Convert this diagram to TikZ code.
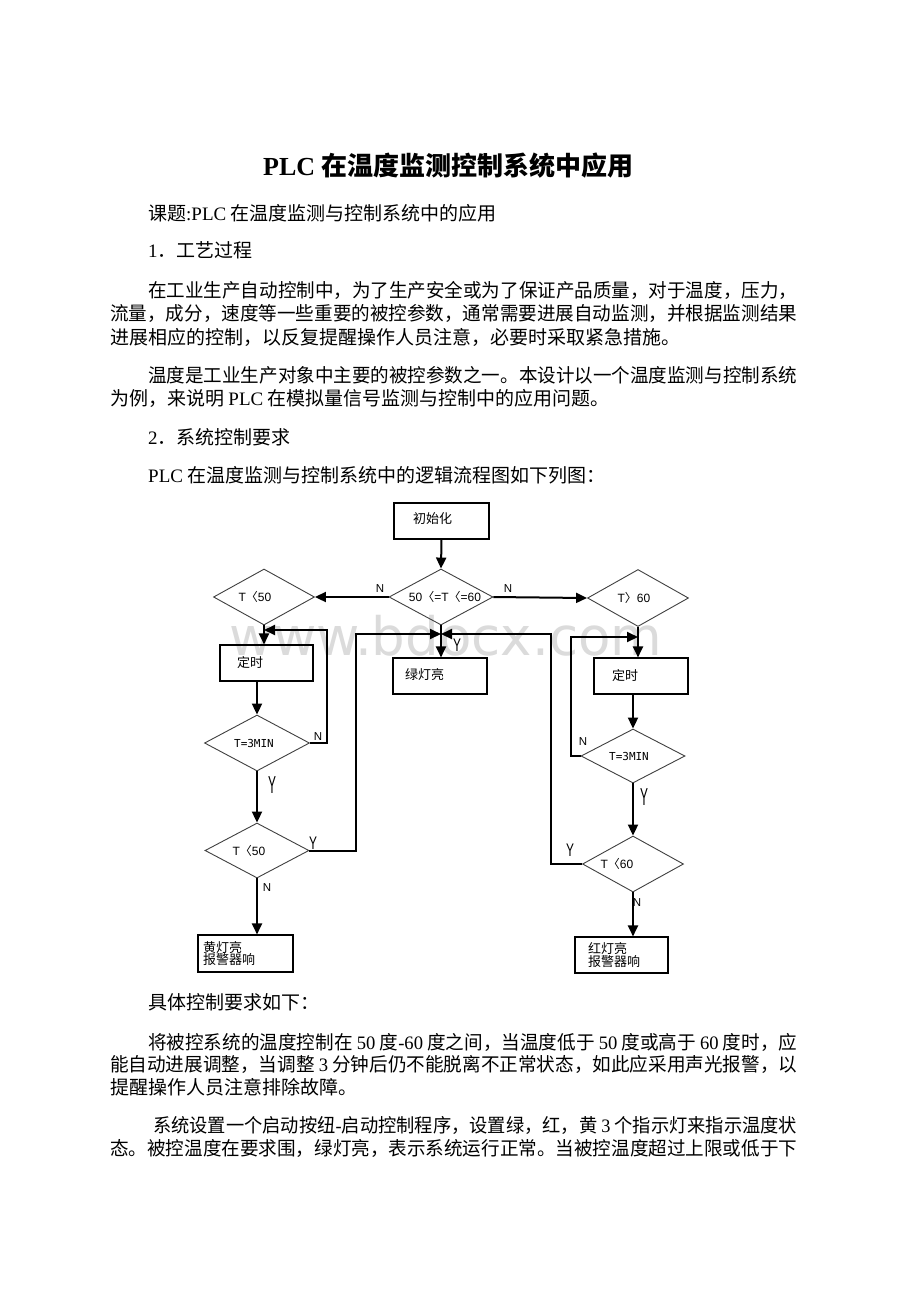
\documentclass[tikz,border=0pt]{standalone}
\usepackage{fontspec}
\usepackage{graphicx}
\setmainfont{Liberation Serif}
\newfontfamily\cjk{Noto Sans CJK SC}
\newfontfamily\lsans{Liberation Sans}
\newfontfamily\dmono{DejaVu Sans Mono}
\newfontfamily\dsans{DejaVu Sans}
\usetikzlibrary{arrows.meta,shapes.geometric}
\newcommand\lt[1]{{\rmfamily #1}}
\newcommand\fitw[2]{\resizebox{#1}{\height}{#2}}
\newcommand\shtxt[3]{\raisebox{#2}{\kern#1\relax#3\kern-#1\relax}}
\newcommand\Ysm{\scalebox{0.85}[1.3]{\lsans\fontsize{14}{14}\selectfont Y}}
\newcommand\Ybig{\scalebox{0.85}[1.75]{\lsans\fontsize{14}{14}\selectfont Y}}
\newcommand\lang{{\cjk 〈}}
\newcommand\rang{{\cjk 〉}}
\begin{document}
\begin{tikzpicture}[x=1pt,y=-1pt,
  body/.style={anchor=base west, inner sep=0pt, font=\cjk\fontsize{19}{19}\selectfont},
  fcbox/.style={draw=black, line width=1.1pt, rectangle, inner ysep=0pt, minimum height=36pt, font=\cjk\fontsize{13}{12.5}\selectfont, align=left},
  dia/.style={draw=black!75, line width=0.9pt, diamond, shape aspect=1.9, inner sep=0pt},
  conn/.style={line width=2pt, -{Triangle[length=11pt,width=10pt]}},
  lab/.style={inner sep=0pt, font=\lsans\fontsize{11.5}{11.5}\selectfont},
  dtext/.style={font=\lsans\fontsize{12}{12}\selectfont},
  mtext/.style={font=\dmono\fontsize{11}{11}\selectfont}
]
\useasboundingbox (0,0) rectangle (920,1302);
\fill[white] (0,0) rectangle (920,1302);

% watermark
\node[anchor=base, inner sep=0pt, text=black!14, font=\dsans\fontsize{53}{53}\selectfont] (wm) at (446,655) {www.bdocx.com};

% title and text
\node[anchor=base west, inner sep=0pt, font=\cjk\bfseries\fontsize{26}{26}\selectfont] (title) at (263,175) {{\rmfamily\bfseries PLC} 在温度监测控制系统中应用};
\node[body] (t1) at (148,220.5) {课题\lt{:PLC} 在温度监测与控制系统中的应用};
\node[body] (t2) at (148,257) {\lt{1}．工艺过程};
\node[body] (t3) at (148,297) {\fitw{649pt}{在工业生产自动控制中，为了生产安全或为了保证产品质量，对于温度，压力，}};
\node[body] (t4) at (110,320.5) {\fitw{687pt}{流量，成分，速度等一些重要的被控参数，通常需要进展自动监测，并根据监测结果}};
\node[body] (t5) at (110,344) {进展相应的控制，以反复提醒操作人员注意，必要时采取紧急措施。};
\node[body] (t6) at (148,382.5) {\fitw{649pt}{温度是工业生产对象中主要的被控参数之一。本设计以一个温度监测与控制系统}};
\node[body] (t7) at (110,405.5) {为例，来说明 \lt{PLC} 在模拟量信号监测与控制中的应用问题。};
\node[body] (t8) at (148,444) {\lt{2}．系统控制要求};
\node[body] (t9) at (148,482) {\lt{PLC} 在温度监测与控制系统中的逻辑流程图如下列图：};

\node[body] (t10) at (148,1009) {具体控制要求如下：};
\node[body] (t11) at (148,1049) {\fitw{649pt}{将被控系统的温度控制在 \lt{50} 度\lt{-60} 度之间，当温度低于 \lt{50} 度或高于 \lt{60} 度时，应}};
\node[body] (t12) at (110,1071) {\fitw{687pt}{能自动进展调整，当调整 \lt{3} 分钟后仍不能脱离不正常状态，如此应采用声光报警，以}};
\node[body] (t13) at (110,1094) {提醒操作人员注意排除故障。};
\node[body] (t14) at (153,1132.5) {\fitw{644pt}{系统设置一个启动按纽\lt{-}启动控制程序，设置绿，红，黄 \lt{3} 个指示灯来指示温度状}};
\node[body] (t15) at (110,1155.5) {\fitw{687pt}{态。被控温度在要求围，绿灯亮，表示系统运行正常。当被控温度超过上限或低于下}};

% flowchart nodes
\node[fcbox, minimum width=95pt, inner xsep=19pt, text width=57pt] (init) at (441.5,521) {\raisebox{5pt}{初始化}};
\node[dia, minimum width=104pt, minimum height=56pt, dtext] (c) at (441,597) {\shtxt{4pt}{0pt}{50\lang=T\lang=60}};
\node[dia, minimum width=101pt, minimum height=56pt, dtext] (L1) at (264,597) {\shtxt{-9pt}{0pt}{T\lang50}};
\node[dia, minimum width=101pt, minimum height=57pt, dtext] (R1) at (638,598) {\shtxt{-4pt}{0pt}{T\rang60}};
\node[fcbox, minimum width=93pt, inner xsep=17pt, text width=59pt] (LT) at (266.5,663) {定时};
\node[dia, minimum width=105pt, minimum height=56pt, mtext] (L2) at (257,743) {\shtxt{-3pt}{-3pt}{T=3MIN}};
\node[dia, minimum width=104pt, minimum height=55pt, dtext] (L3) at (257,850.5) {\shtxt{-8pt}{0pt}{T\lang50}};
\node[fcbox, minimum width=95pt, minimum height=37pt, inner xsep=5pt, text width=85pt] (Ybox) at (245.5,953.5) {黄灯亮\\报警器响};
\node[fcbox, minimum width=94pt, inner xsep=12pt, text width=70pt] (G) at (440,676) {\raisebox{5pt}{绿灯亮}};
\node[fcbox, minimum width=94pt, inner xsep=18pt, text width=58pt] (RT) at (641,676) {定时};
\node[dia, minimum width=104pt, minimum height=54pt, mtext] (R2) at (633,756) {\shtxt{-4pt}{-3pt}{T=3MIN}};
\node[dia, minimum width=101pt, minimum height=56pt, dtext] (R3) at (633,864) {\shtxt{-16pt}{0pt}{T\lang60}};
\node[fcbox, minimum width=93pt, inner xsep=13pt, text width=67pt] (Rbox) at (621.5,955) {红灯亮\\报警器响};

% junction helpers
\coordinate (yj) at (0,634);
\coordinate (yl) at (0,630);
\coordinate (yr) at (0,637);
\coordinate (gj) at (c.south |- yj);
\coordinate (lj) at (L1.south |- yl);
\coordinate (rj) at (R1.south |- yr);

% connectors
\draw[conn] (init.south) -- (c.north);
\draw[conn] (c.west) -- (L1.east);
\draw[conn] (c.east) -- (R1.west);
\draw[conn] (L1.south) -- (L1.south |- LT.north);
\draw[conn] (L2.north |- LT.south) -- (L2.north);
\draw[conn] (L2.east) -- ++(17,0) |- (lj);
\draw[conn] (L2.south) -- (L3.north);
\draw[conn] (L3.east) -- ++(47,0) |- (gj);
\draw[conn] (L3.south) -- (L3.south |- Ybox.north);
\draw[conn] (c.south) -- (c.south |- G.north);
\draw[conn] (R1.south) -- (R1.south |- RT.north);
\draw[conn] (R2.west) -- ++(-10,0) |- (rj);
\draw[conn] (R2.north |- RT.south) -- (R2.north);
\draw[conn] (R2.south) -- (R3.north);
\draw[conn] (R3.west) -- ++(-31,0) |- (gj);
\draw[conn] (R3.south) -- (R3.south |- Rbox.north);

% labels
\node[lab] (n1) at (380,589) {N};
\node[lab] (n2) at (508,589) {N};
\node[lab] (n3) at (318,737) {N};
\node[inner sep=0pt] (y1) at (272,785) {\Ybig};
\node[inner sep=0pt] (y2) at (313,843) {\Ysm};
\node[lab] (n4) at (267,888) {N};
\node[inner sep=0pt] (y3) at (457,645) {\Ysm};
\node[lab] (n5) at (583,742) {N};
\node[inner sep=0pt] (y4) at (644,797) {\Ybig};
\node[inner sep=0pt] (y5) at (570,850) {\Ysm};
\node[lab] (n6) at (637,903) {N};
\end{tikzpicture}
\end{document}
